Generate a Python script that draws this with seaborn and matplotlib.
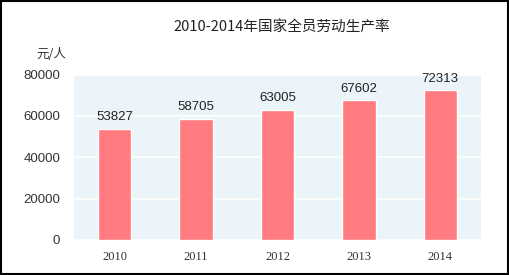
import matplotlib
matplotlib.use("Agg")
import matplotlib.pyplot as plt
import seaborn as sns
import pandas as pd
from matplotlib.patches import Rectangle

years = ["2010", "2011", "2012", "2013", "2014"]
values = [53827, 58705, 63005, 67602, 72313]
yticks = [0, 20000, 40000, 60000, 80000]
title = "2010-2014年国家全员劳动生产率"
unit = "元/人"

sns.set_theme(style="white")
plt.rcParams['font.family'] = ['Noto Sans CJK SC', 'DejaVu Sans']

df = pd.DataFrame({"year": years, "value": values})

fig = plt.figure(figsize=(5.1, 2.75), dpi=100)
ax = fig.add_axes([74/510, 35/275, 407/510, 165.5/275])
ax.set_facecolor("#EBF4F8")

sns.barplot(data=df, x="year", y="value", color="#FF7B7F", width=0.41,
            saturation=1, ax=ax, zorder=3)

ax.set_xlim(-0.5, 4.5)
ax.set_ylim(0, 80000)
ax.set_yticks(yticks)
ax.set_yticklabels([str(t) for t in yticks])
ax.set_xticks(range(len(years)))
ax.set_xticklabels(years)
ax.grid(axis="y", color="white", linewidth=1.2, zorder=1)
ax.set_axisbelow(True)
for s in ax.spines.values():
    s.set_visible(False)
ax.tick_params(axis="both", length=0, colors="#333333")
ax.tick_params(axis="x", pad=8)
ax.tick_params(axis="y", pad=10)
ax.set_xlabel("")
ax.set_ylabel("")
for lab in ax.get_yticklabels():
    lab.set_fontfamily("Liberation Sans")
    lab.set_fontsize(9.5)
for lab in ax.get_xticklabels():
    lab.set_fontfamily("Liberation Serif")
    lab.set_fontsize(9)

for i, v in enumerate(values):
    ax.text(i, v + 2700, str(v), ha="center", va="bottom", fontsize=9.5,
            fontfamily="Liberation Sans", color="#222222")

fig.text(282/510, 1 - 27/275, title, ha="center", va="center", fontsize=10.5, color="#222222")
fig.text(51/510, 1 - 55/275, unit, ha="center", va="center", fontsize=9, color="#333333")

fig.patches.append(Rectangle((0.002, 0.003), 0.995, 0.994, transform=fig.transFigure,
                             fill=False, edgecolor="black", linewidth=1.5))

fig.savefig("out.png", dpi=100)
